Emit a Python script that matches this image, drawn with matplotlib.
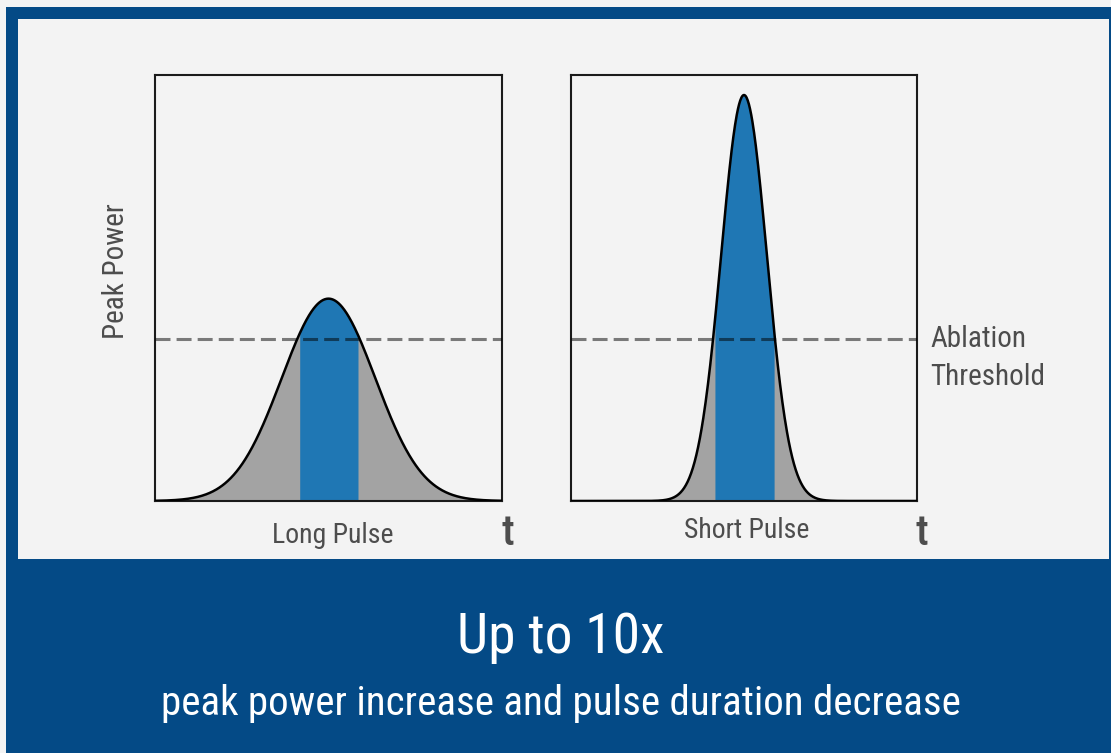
import numpy as np
import matplotlib
matplotlib.use("Agg")
import matplotlib.pyplot as plt
from matplotlib.patches import Rectangle

# pulse shapes (axes units: t 0..1, power 0..1)
pulse_names = ["Long Pulse", "Short Pulse"]
pulse_center = [0.5, 0.5]
pulse_peak = [0.475, 0.953]
pulse_sigma = [0.135, 0.066]
above_window = [(0.417, 0.585), (0.416, 0.587)]
ablation_threshold = 0.38

headline = "Up to 10x"
subline = "peak power increase and pulse duration decrease"

W, H = 1111, 753
navy = "#044a86"
panel = "#f3f3f3"
txt = "#4d4d4d"
fam = ["Roboto Condensed", "DejaVu Sans Condensed", "Liberation Sans Narrow", "Roboto", "DejaVu Sans"]
st = "condensed"

fig = plt.figure(figsize=(W / 100, H / 100), dpi=100, facecolor=panel)

# background frame, in pixel coordinates
bg = fig.add_axes([0, 0, 1, 1], zorder=0)
bg.set_xlim(0, W)
bg.set_ylim(H, 0)
bg.axis("off")
bg.add_patch(Rectangle((6, 7), W, H, color=navy, lw=0))
bg.add_patch(Rectangle((18, 19), 1091, 540, color=panel, lw=0))

boxes = [(155, 502), (571, 917)]
for i, (x0, x1) in enumerate(boxes):
    ax = fig.add_axes([x0 / W, (H - 501) / H, (x1 - x0) / W, 426 / H], zorder=2)
    ax.set_facecolor("none")
    ax.set_xlim(0, 1)
    ax.set_ylim(0, 1)
    ax.set_xticks([])
    ax.set_yticks([])
    for s in ax.spines.values():
        s.set_linewidth(1.5)
        s.set_color("#1a1a1a")

    t = np.linspace(0, 1, 600)
    p = pulse_peak[i] * np.exp(-(t - pulse_center[i]) ** 2 / (2 * pulse_sigma[i] ** 2))
    ax.fill_between(t, 0, p, color="#a3a3a3", lw=0, zorder=1)
    lo, hi = above_window[i]
    tb = np.linspace(lo, hi, 200)
    pb = pulse_peak[i] * np.exp(-(tb - pulse_center[i]) ** 2 / (2 * pulse_sigma[i] ** 2))
    ax.fill_between(tb, 0, pb, color="#1f77b4", lw=0, zorder=2)
    ax.plot(t, p, color="black", lw=1.8, zorder=3)
    ax.axhline(ablation_threshold, color="black", alpha=0.5, lw=2.2,
               dashes=(4.9, 2.0), zorder=4)

# labels
bg.text(116, 271, "Peak Power", rotation=90, ha="center", va="center",
        fontsize=21, color=txt, family=fam, stretch=st)
bg.text(333, 543, pulse_names[0], ha="center", va="baseline",
        fontsize=20, color=txt, family=fam, stretch=st)
bg.text(747, 538, pulse_names[1], ha="center", va="baseline",
        fontsize=20, color=txt, family=fam, stretch=st)
for x in (508, 922):
    bg.text(x, 545, "t", ha="center", va="baseline", fontsize=30,
            fontweight="medium", color=txt, family=fam, stretch=st)
bg.text(930, 347, "Ablation", ha="left", va="baseline", fontsize=21,
        color=txt, family=fam, stretch=st)
bg.text(930, 385, "Threshold", ha="left", va="baseline", fontsize=21,
        color=txt, family=fam, stretch=st)

bg.text(561, 653, headline, ha="center", va="baseline", fontsize=40,
        color="white", family=fam, stretch=st)
bg.text(561, 715, subline, ha="center", va="baseline", fontsize=29.5,
        color="white", family=fam, stretch=st)

fig.savefig("out.png", dpi=100, facecolor=panel)
